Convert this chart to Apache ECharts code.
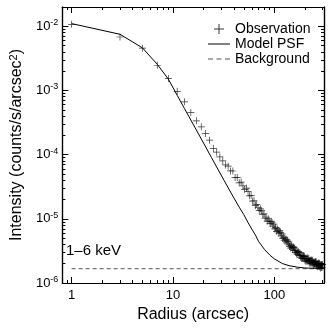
<!DOCTYPE html>
<html>
<head>
<meta charset="UTF-8">
<title>PSF radial profile</title>
<script src="https://cdn.jsdelivr.net/npm/echarts@6.0.0/dist/echarts.min.js"></script>
<style>
  html, body { margin: 0; padding: 0; background: #fff; }
  #chart { width: 332px; height: 332px; }
</style>
</head>
<body>
<div id="chart"></div>
<script>
// observed surface brightness profile (2 arcsec annuli)
var obsRadius = [
  1, 3, 5, 7, 9, 11, 13, 15, 17, 19, 21, 23, 25, 27, 29, 31, 33, 35, 37, 39,
  41, 43, 45, 47, 49, 51, 53, 55, 57, 59, 61, 63, 65, 67, 69, 71, 73, 75, 77, 79,
  81, 83, 85, 87, 89, 91, 93, 95, 97, 99, 101, 103, 105, 107, 109, 111, 113, 115, 117, 119,
  121, 123, 125, 127, 129, 131, 133, 135, 137, 139, 141, 143, 145, 147, 149, 151, 153, 155, 157, 159,
  161, 163, 165, 167, 169, 171, 173, 175, 177, 179, 181, 183, 185, 187, 189, 191, 193, 195, 197, 199,
  201, 203, 205, 207, 209, 211, 213, 215, 217, 219, 221, 223, 225, 227, 229, 231, 233, 235, 237, 239,
  241, 243, 245, 247, 249, 251, 253, 255, 257, 259, 261, 263, 265, 267, 269, 271, 273, 275, 277, 279,
  281, 283, 285, 287, 289, 291, 293, 295, 297, 299
];
var obsIntensity = [
  1.07e-2, 6.8e-3, 4.55e-3, 2.47e-3, 1.53e-3, 9.7e-4, 6.64e-4, 4.54e-4, 3.36e-4, 2.71e-4,
  2.14e-4, 1.68e-4, 1.25e-4, 1.09e-4, 9.2e-5, 8.0e-5, 6.9e-5, 6.6e-5, 5.58e-5, 5.56e-5,
  4.42e-5, 4.39e-5, 3.63e-5, 3.74e-5, 3.25e-5, 2.85e-5, 3.0e-5, 2.68e-5, 2.28e-5, 2.32e-5,
  1.88e-5, 1.91e-5, 1.61e-5, 1.68e-5, 1.5e-5, 1.34e-5, 1.43e-5, 1.33e-5, 1.16e-5, 1.22e-5,
  1.02e-5, 1.06e-5, 9.2e-6, 1.0e-5, 9.2e-6, 8.41e-6, 9.15e-6, 8.66e-6, 7.71e-6, 8.26e-6,
  6.96e-6, 7.29e-6, 6.39e-6, 6.97e-6, 6.5e-6, 5.99e-6, 6.47e-6, 6.14e-6, 5.43e-6, 5.83e-6,
  4.94e-6, 5.2e-6, 4.55e-6, 5.04e-6, 4.7e-6, 4.37e-6, 4.76e-6, 4.52e-6, 4.07e-6, 4.37e-6,
  3.71e-6, 3.93e-6, 3.5e-6, 3.85e-6, 3.6e-6, 3.37e-6, 3.69e-6, 3.57e-6, 3.2e-6, 3.51e-6,
  2.99e-6, 3.18e-6, 2.83e-6, 3.14e-6, 2.98e-6, 2.77e-6, 3.08e-6, 2.96e-6, 2.7e-6, 2.94e-6,
  2.52e-6, 2.7e-6, 2.41e-6, 2.7e-6, 2.56e-6, 2.4e-6, 2.68e-6, 2.59e-6, 2.37e-6, 2.6e-6,
  2.25e-6, 2.43e-6, 2.17e-6, 2.43e-6, 2.33e-6, 2.19e-6, 2.45e-6, 2.39e-6, 2.19e-6, 2.42e-6,
  2.09e-6, 2.25e-6, 2.01e-6, 2.27e-6, 2.16e-6, 2.03e-6, 2.28e-6, 2.23e-6, 2.05e-6, 2.27e-6,
  1.96e-6, 2.11e-6, 1.9e-6, 2.13e-6, 2.04e-6, 1.93e-6, 2.16e-6, 2.11e-6, 1.94e-6, 2.15e-6,
  1.85e-6, 2.0e-6, 1.79e-6, 2.02e-6, 1.94e-6, 1.83e-6, 2.05e-6, 2.01e-6, 1.84e-6, 2.04e-6,
  1.77e-6, 1.91e-6, 1.71e-6, 1.92e-6, 1.84e-6, 1.74e-6, 1.95e-6, 1.91e-6, 1.76e-6, 1.94e-6
];

// model PSF (+ background)
var modelRadius = [1, 3, 5, 7, 9, 11, 13, 15, 17, 20, 24, 28, 32, 36, 40, 45, 50, 55, 60, 65, 70, 80, 90, 100, 120, 140, 170, 200, 250, 309];
var modelIntensity = [
  1.1e-2, 7.5e-3, 4.6e-3, 2.55e-3, 1.5e-3, 8.4e-4, 5.2e-4, 3.46e-4, 2.42e-4, 1.52e-4,
  8.97e-5, 5.77e-5, 3.94e-5, 2.81e-5, 2.1e-5, 1.52e-5, 1.16e-5, 8.74e-6, 6.89e-6, 5.61e-6,
  4.42e-6, 3.33e-6, 2.73e-6, 2.38e-6, 2.01e-6, 1.86e-6, 1.76e-6, 1.715e-6, 1.69e-6, 1.68e-6
];

// flat background level
var bgRadius = [1, 309];
var bgIntensity = [1.67e-6, 1.67e-6];

// axis ticks
var xMajor = [1, 10, 100];
var xMinor = [0.9, 2, 3, 4, 5, 6, 7, 8, 9, 20, 30, 40, 50, 60, 70, 80, 90, 200, 300];
var yMajor = [1e-6, 1e-5, 1e-4, 1e-3, 1e-2];
var yMinor = [];
[1e-6, 1e-5, 1e-4, 1e-3].forEach(function (d) {
  for (var k = 2; k <= 9; k++) yMinor.push(k * d);
});

var L = Math.log10;
var xMin = L(0.81), xMax = L(309);
var yMin = -6, yMax = L(0.01995);

var font = 'Liberation Sans, Arial, sans-serif';
var plusIcon = 'path://M4.5,0H5.5V4.5H10V5.5H5.5V10H4.5V5.5H0V4.5H4.5Z';
var lineIcon = 'path://M0,0H22V1H0Z';
var dashIcon = 'path://M0,0H5V1H0ZM8.5,0H13.5V1H8.5ZM17,0H22V1H17Z';

function pairs(xs, ys) {
  return xs.map(function (x, i) { return [L(x), L(ys[i])]; });
}

function makeAxis(pos, min, max, ticks, len, opts) {
  var ax = {
    type: 'value',
    position: pos,
    min: min,
    max: max,
    axisLine: { show: true, onZero: false, lineStyle: { color: '#000', width: 1.2 } },
    axisTick: { show: true, inside: true, length: len, customValues: ticks.map(L),
                lineStyle: { color: '#000', width: 1 } },
    axisLabel: { show: false },
    splitLine: { show: false }
  };
  return Object.assign(ax, opts || {});
}

var chart = echarts.init(document.getElementById('chart'));
chart.setOption({
  animation: false,
  backgroundColor: '#fff',
  textStyle: { fontFamily: font },
  grid: { left: 48, right: 8, top: 7, bottom: 49 },
  legend: {
    orient: 'vertical',
    left: 203,
    top: 17,
    itemWidth: 22,
    itemHeight: 10,
    itemGap: 1,
    selectedMode: false,
    textStyle: { fontFamily: font, fontSize: 14, color: '#000' },
    data: [
      { name: 'Observation', icon: plusIcon },
      { name: 'Model PSF', icon: lineIcon },
      { name: 'Background', icon: dashIcon }
    ]
  },
  graphic: [{
    type: 'text',
    left: 66,
    top: 243,
    style: { text: '1\u20136 keV', font: '15px ' + font, fill: '#000' }
  }],
  xAxis: [
    makeAxis('bottom', xMin, xMax, xMajor, 6, {
      name: 'Radius (arcsec)',
      nameLocation: 'middle',
      nameGap: 22,
      nameTextStyle: { fontFamily: font, fontSize: 16, color: '#000' },
      axisLabel: {
        show: true, margin: 6, customValues: xMajor.map(L),
        fontFamily: font, fontSize: 13, color: '#000',
        formatter: function (v) { return String(Math.round(Math.pow(10, v))); }
      }
    }),
    makeAxis('bottom', xMin, xMax, xMinor, 3),
    makeAxis('top', xMin, xMax, xMajor, 6),
    makeAxis('top', xMin, xMax, xMinor, 3)
  ],
  yAxis: [
    makeAxis('left', yMin, yMax, yMajor, 6, {
      name: 'Intensity (counts/s/arcsec{sup|2})',
      nameLocation: 'middle',
      nameGap: 35,
      nameRotate: 90,
      nameTextStyle: {
        fontFamily: font, fontSize: 16, color: '#000',
        rich: { sup: { fontFamily: font, fontSize: 11, color: '#000', padding: [0, 0, 7, 0] } }
      },
      axisLabel: {
        show: true, margin: 4, customValues: yMajor.map(L),
        fontFamily: font, fontSize: 13, color: '#000',
        formatter: function (v) { return '10{sup|' + Math.round(v) + '}'; },
        rich: { sup: { fontFamily: font, fontSize: 9, color: '#000', padding: [0, 0, 7, 0] } }
      }
    }),
    makeAxis('left', yMin, yMax, yMinor, 3),
    makeAxis('right', yMin, yMax, yMajor, 6),
    makeAxis('right', yMin, yMax, yMinor, 3)
  ],
  series: [
    {
      name: 'Background',
      type: 'line',
      data: pairs(bgRadius, bgIntensity),
      showSymbol: false,
      silent: true,
      itemStyle: { color: '#555' },
      lineStyle: { color: '#555', width: 1, type: [4, 3] },
      z: 1
    },
    {
      name: 'Model PSF',
      type: 'line',
      data: pairs(modelRadius, modelIntensity),
      showSymbol: false,
      smooth: false,
      silent: true,
      itemStyle: { color: '#000' },
      lineStyle: { color: '#000', width: 1 },
      z: 2
    },
    {
      name: 'Observation',
      type: 'scatter',
      data: pairs(obsRadius, obsIntensity),
      symbol: plusIcon,
      symbolSize: 7,
      silent: true,
      itemStyle: { color: '#000' },
      z: 3
    }
  ]
});
</script>
</body>
</html>
